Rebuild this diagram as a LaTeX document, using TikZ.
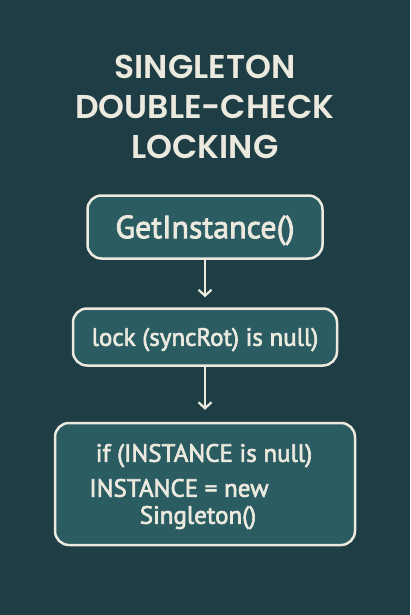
\documentclass[tikz,border=0pt]{standalone}
\usepackage{fontspec}
\setmainfont{PT Sans}[FakeBold=2.5]
\newfontfamily\titlefont{Poppins SemiBold}
\usetikzlibrary{arrows.meta}
\usetikzlibrary{positioning}

\definecolor{bgTeal}{HTML}{1E3D44}
\definecolor{boxTeal}{HTML}{2A5C62}
\definecolor{cream}{HTML}{ECE9DF}

\begin{document}
\begin{tikzpicture}[x=1pt, y=-1pt,
	stepBox/.style={draw=cream, line width=2.5pt, fill=boxTeal, rounded corners=14pt, inner sep=0pt, text=cream, text depth=0pt},
	boxText/.style={text=cream, inner sep=0pt, text height=17.5pt, text depth=0pt, font=\boxFont},
	flowArrow/.style={draw=cream, line width=2.2pt, -{Straight Barb[length=6pt, width=13pt]}}]

	%page and background, one unit is one pixel of the reference
	\fill[bgTeal] (0,0) rectangle (410,615);
	\useasboundingbox (0,0) rectangle (410,615);

	%declare constants, text height is the cap height of PT Sans (0.7em)
	\def\boxFont{\fontsize{25}{30}\selectfont}
	\def\bigFont{\fontsize{32}{38}\selectfont}

	%title
	\node[text=cream, align=center, font=\titlefont\fontsize{33}{40}\selectfont] (title) at (205,107) {SINGLETON\\DOUBLE-CHECK\\LOCKING};

	%flow boxes
	\node[stepBox, minimum width=235, minimum height=63, text height=22.4pt, font=\bigFont] (getInst) at (205,227) {GetInstance()};
	\node[stepBox, minimum width=264, minimum height=57, text height=17.5pt, font=\boxFont] (lockSync) at (205,337) {lock (syncRot) is null)};
	\node[stepBox, minimum width=300, minimum height=122] (newInst) at (205,484) {};

	%text of the last box
	\node[boxText] (ifNull) at (204,453) {if (INSTANCE is null)};
	\node[boxText] (assignNew) at (179,488) {INSTANCE = new};
	\node[boxText] (ctorCall) at (198,515) {Singleton()};

	%connectors
	\draw[flowArrow, shorten >=10pt] (getInst) -- (lockSync);
	\draw[flowArrow, shorten >=12pt] (lockSync) -- (newInst);

\end{tikzpicture}
\end{document}
